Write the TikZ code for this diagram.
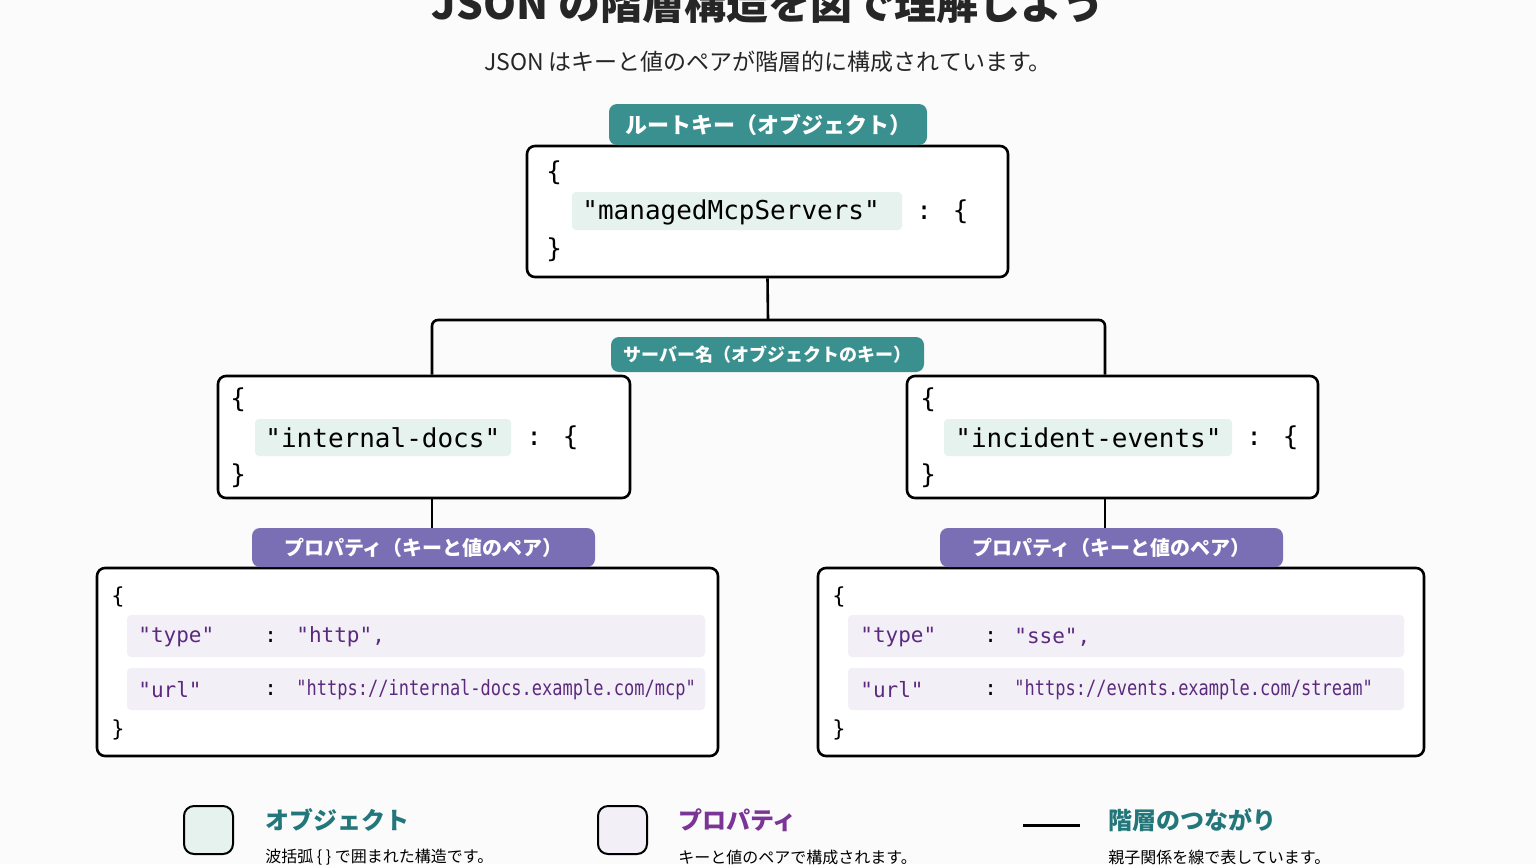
\documentclass[tikz,border=0pt]{standalone}
\usepackage{fontspec}
\setmainfont{Noto Sans CJK JP}
\newfontfamily\codefont{DejaVu Sans Mono}
\usetikzlibrary{positioning,calc}
\definecolor{tealc}{HTML}{3A8F8F}
\definecolor{tealtxt}{HTML}{23777A}
\definecolor{purc}{HTML}{7A6FB4}
\definecolor{purtxt}{HTML}{5B2A7E}
\definecolor{legpur}{HTML}{7A3596}
\definecolor{mint}{HTML}{E6F2EE}
\definecolor{lav}{HTML}{F3EFF7}
\definecolor{bg}{HTML}{FBFBFB}

\begin{document}
\begin{tikzpicture}[
    x=0.5pt, y=-0.5pt,
    box/.style={draw, line width=1.3pt, rounded corners=4pt, fill=white},
    tag/.style={rounded corners=4pt, text=white, font=\bfseries, inner sep=0pt},
    keybg/.style={fill=mint, rounded corners=2pt},
    rowbg/.style={fill=lav, rounded corners=2pt},
    code/.style={font=\codefont\fontsize{13}{15}\selectfont, anchor=west, inner sep=0pt},
    pcode/.style={font=\codefont\fontsize{10.5}{12}\selectfont, anchor=west, inner sep=0pt, text=purtxt},
    link/.style={line width=1.3pt},
    legtitle/.style={font=\bfseries\fontsize{12}{14}\selectfont, anchor=west, inner sep=0pt},
    legtext/.style={font=\fontsize{8}{10}\selectfont, anchor=west, inner sep=0pt},
]
\fill[bg] (0,0) rectangle (1536,864);
\useasboundingbox (0,0) rectangle (1536,864);

% title
\node[font=\bfseries\fontsize{21}{24}\selectfont, text=black!85] (title) at (768,4) {JSON の階層構造を図で理解しよう};
\node[font=\fontsize{11.5}{13}\selectfont, text=black!85] (subtitle) at (768,62) {JSON はキーと値のペアが階層的に構成されています。};

% ========== root ==========
\node[box, minimum width=240.5pt, minimum height=65.5pt] (root) at (767.5,211.5) {};
\node[tag, fill=tealc, minimum width=159pt, minimum height=20.5pt, font=\bfseries\fontsize{11}{13}\selectfont] (roottag) at (768,124.5) {ルートキー（オブジェクト）};
\fill[keybg] (572,192) rectangle (902,230);
\node[code] (rootopen) at (546,173) {\{};
\node[code] (rootkey) at (582,212) {"managedMcpServers"};
\node[code] at (916,212) {: \{};
\node[code] (rootclose) at (546,250) {\}};

% ========== servers ==========
\node[box, minimum width=206pt, minimum height=61pt] (left) at (424,437) {};
\node[box, minimum width=205.5pt, minimum height=61pt] (right) at (1112.5,437) {};
\coordinate (split) at (768,320);
\draw[link] (root.south) -- (split);
\draw[link, rounded corners=3pt] (left.north -| 432,0) |- (split) -| (right.north -| 1105,0);
\node[tag, fill=tealc, minimum width=156.5pt, minimum height=17.5pt, font=\bfseries\fontsize{9}{11}\selectfont] (servertag) at (767.5,354.5) {サーバー名（オブジェクトのキー）};

\fill[keybg] (255,419) rectangle (511,456);
\node[code] at (230,400) {\{};
\node[code] (leftkey) at (265,438) {"internal-docs"};
\node[code] at (526,438) {: \{};
\node[code] at (230,476) {\}};

\fill[keybg] (944,419) rectangle (1232,456);
\node[code] at (920,400) {\{};
\node[code] (rightkey) at (955,438) {"incident-events"};
\node[code] at (1246,438) {: \{};
\node[code] at (920,476) {\}};

% ========== properties ==========
\node[box, minimum width=310.5pt, minimum height=94pt] (lprop) at (407.5,662) {};
\node[box, minimum width=303pt, minimum height=94pt] (rprop) at (1121,662) {};
\draw[link] (left.south -| 432,0) -- (432,528);
\draw[link] (right.south -| 1105,0) -- (1105,528);
\node[tag, fill=purc, minimum width=171.5pt, minimum height=19.5pt, font=\bfseries\fontsize{10}{12}\selectfont] (ltag) at (423.5,547.5) {プロパティ（キーと値のペア）};
\node[tag, fill=purc, minimum width=171.5pt, minimum height=19.5pt, font=\bfseries\fontsize{10}{12}\selectfont] (rtag) at (1111.5,547.5) {プロパティ（キーと値のペア）};

\foreach \x/\w/\kx/\cx/\vx/\t/\u in {97/705/138/264/296/http/{https://internal-docs.example.com/mcp},
                                     818/1404/860/984/1014/sse/{https://events.example.com/stream}} {
    \fill[rowbg] (\x+30,615) rectangle (\w,657);
    \fill[rowbg] (\x+30,668) rectangle (\w,710);
    \node[code, font=\codefont\fontsize{11}{13}\selectfont] at (\x+14,597) {\{};
    \node[code, font=\codefont\fontsize{11}{13}\selectfont] at (\x+14,730) {\}};
    \node[pcode] at (\kx,637) {"type"};
    \node[pcode, text=black] at (\cx,637) {:};
    \node[pcode] at (\vx,637) {"\t",};
    \node[pcode] at (\kx,690) {"url"};
    \node[pcode, text=black] at (\cx,690) {:};
    \node[pcode] at (\vx,690) {\scalebox{0.81}[1]{"\u"}};
}

% ========== legend ==========
\draw[line width=1pt, rounded corners=5pt, fill=mint] (184,806) rectangle (233,854);
\node[legtitle, text=tealtxt] (legobj) at (265,820) {オブジェクト};
\node[legtext] at (265,857) {波括弧 \{ \} で囲まれた構造です。};
\draw[line width=1pt, rounded corners=5pt, fill=lav] (598,806) rectangle (647,854);
\node[legtitle, text=legpur] (legprop) at (678,820) {プロパティ};
\node[legtext] at (678,857) {キーと値のペアで構成されます。};
\draw[line width=1.5pt] (1023,825) -- (1080,825);
\node[legtitle, text=tealtxt] (leglink) at (1108,820) {階層のつながり};
\node[legtext] at (1108,857) {親子関係を線で表しています。};
\end{tikzpicture}
\end{document}
